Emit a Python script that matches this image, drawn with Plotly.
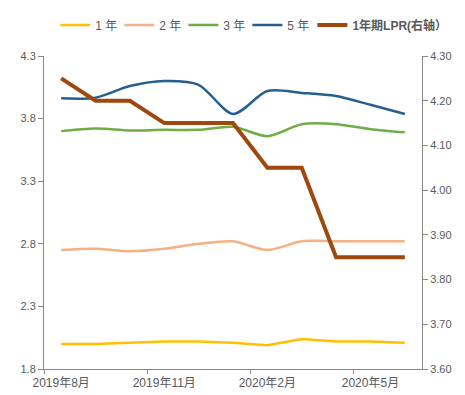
import plotly.graph_objects as go

months = ["2019年8月", "2019年9月", "2019年10月", "2019年11月", "2019年12月", "2020年1月",
          "2020年2月", "2020年3月", "2020年4月", "2020年5月", "2020年6月"]
y1 = [2.00, 2.00, 2.01, 2.02, 2.02, 2.01, 1.99, 2.04, 2.02, 2.02, 2.01]
y2 = [2.75, 2.76, 2.74, 2.76, 2.80, 2.82, 2.75, 2.82, 2.82, 2.82, 2.82]
y3 = [3.70, 3.72, 3.705, 3.71, 3.71, 3.735, 3.66, 3.755, 3.755, 3.715, 3.69]
y5 = [3.962, 3.967, 4.06, 4.10, 4.07, 3.837, 4.02, 4.005, 3.98, 3.91, 3.837]
lpr = [4.25, 4.20, 4.20, 4.15, 4.15, 4.15, 4.05, 4.05, 3.85, 3.85, 3.85]
label_idx = [0, 3, 6, 9]

x = list(range(len(months)))
font_fam = "Liberation Sans, Noto Sans CJK SC, sans-serif"
grey = "#595959"

fig = go.Figure()
fig.add_trace(go.Scatter(x=x, y=y1, name="1 年", mode="lines",
                         line=dict(color="#FFC000", width=2.5)))
fig.add_trace(go.Scatter(x=x, y=y2, name="2 年", mode="lines",
                         line=dict(color="#F4B183", width=2.5, shape="spline", smoothing=0.8)))
fig.add_trace(go.Scatter(x=x, y=y3, name="3 年", mode="lines",
                         line=dict(color="#70AD47", width=2.5, shape="spline", smoothing=0.8)))
fig.add_trace(go.Scatter(x=x, y=y5, name="5 年", mode="lines",
                         line=dict(color="#255E91", width=2.5, shape="spline", smoothing=0.8)))
fig.add_trace(go.Scatter(x=x, y=lpr, name="<b>1年期LPR(右轴）</b>", mode="lines", yaxis="y2",
                         legend="legend2",
                         line=dict(color="#9E480E", width=4)))

fig.update_layout(
    width=457, height=387,
    margin=dict(l=36, r=43, t=48, b=26, autoexpand=False),
    paper_bgcolor="white", plot_bgcolor="white",
    font=dict(family=font_fam, size=11, color=grey),
    showlegend=True,
    legend=dict(orientation="h", x=0.03, xanchor="left", y=1.099, yanchor="middle",
                font=dict(size=12, color=grey), itemwidth=30, tracegroupgap=0,
                entrywidth=19, entrywidthmode="pixels",
                bgcolor="rgba(0,0,0,0)"),
    legend2=dict(orientation="h", x=0.71, xanchor="left", y=1.099, yanchor="middle",
                 font=dict(size=12, color=grey), itemwidth=30,
                 bgcolor="rgba(0,0,0,0)"),
    xaxis=dict(range=[-0.5, len(months) - 0.5], tickmode="array",
               tickvals=label_idx, ticktext=[months[i] for i in label_idx],
               tickfont=dict(size=12), ticklabelstandoff=3,
               ticks="", showline=True, linecolor="#898989", linewidth=1,
               showgrid=False, zeroline=False,
               minor=dict(tickmode="array", tickvals=[-0.5, 2.5, 5.5, 8.5],
                          ticks="outside", ticklen=4, tickcolor="#898989")),
    yaxis=dict(range=[1.8, 4.3], tick0=1.8, dtick=0.5, tickformat=".1f",
               ticks="outside", ticklen=5, tickcolor="#898989",
               showline=True, linecolor="#898989", linewidth=1,
               showgrid=False, zeroline=False),
    yaxis2=dict(range=[3.6, 4.3], tick0=3.6, dtick=0.1, tickformat=".2f",
                overlaying="y", side="right",
                ticks="outside", ticklen=5, tickcolor="#898989",
                showline=True, linecolor="#898989", linewidth=1,
                showgrid=False, zeroline=False),
)

fig.write_html("out.html")
